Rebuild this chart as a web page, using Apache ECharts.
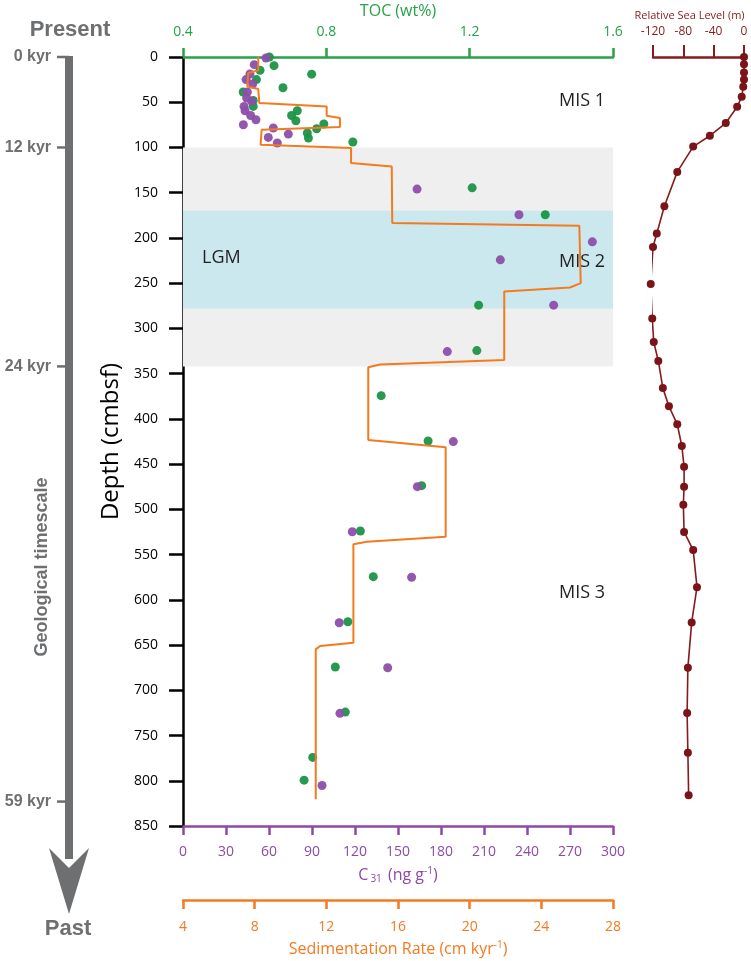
<!DOCTYPE html>
<html><head><meta charset="utf-8">
<script src="https://cdn.jsdelivr.net/npm/echarts@6/dist/echarts.min.js"></script>
<style>html,body{margin:0;padding:0;background:#fff}#c{width:751px;height:961px}</style>
</head><body><div id="c"></div>
<script>
// ---- data ----
const depthTicksMax = 850;
const tocDepths = [0, 9.6, 14.6, 19, 25, 34, 38.7, 48, 54.6, 59.4, 64.6, 70.5, 74, 79.3, 84, 89.6, 94, 144.6, 174.4, 274.3, 324.5, 374.3, 424.4, 473.8, 523.9, 574.4, 624.2, 674.3, 724.1, 774.2, 799.3];
const tocValues = [0.641, 0.654, 0.615, 0.759, 0.605, 0.679, 0.568, 0.596, 0.596, 0.719, 0.703, 0.715, 0.793, 0.773, 0.747, 0.750, 0.874, 1.207, 1.411, 1.225, 1.220, 0.953, 1.084, 1.066, 0.895, 0.931, 0.860, 0.825, 0.853, 0.762, 0.738];
const c31Depths = [1.1, 8.5, 18.8, 25, 29.9, 38.7, 45.3, 49, 54.6, 59.4, 64.6, 69.3, 74.9, 78.5, 85.2, 88.9, 95.1, 146, 174.4, 204.3, 224.2, 274.3, 325.6, 425.1, 474.9, 524.7, 575.1, 625.3, 675.1, 725.5, 805.2];
const c31Values = [57.9, 49.7, 46.7, 44, 48.6, 44.9, 44.4, 47.9, 42.6, 43.3, 47.2, 50.9, 42.1, 63, 73.5, 59.5, 65.8, 163.3, 234.4, 285.6, 221.4, 258.6, 184.4, 188.6, 163.5, 118.1, 159.5, 109, 142.8, 109.5, 97];
const sedDepths = [0, 14.8, 17.7, 32.5, 35.4, 50.9, 54.6, 64.9, 67.5, 77.4, 80.4, 97, 100.6, 117.2, 121, 183.6, 186.6, 250, 254.8, 259.2, 334.8, 339.8, 342.9, 423.3, 431.3, 530.2, 535.7, 538.6, 647.4, 651.1, 654.8, 820.3];
const sedRates = [8.20, 8.20, 7.64, 7.59, 8.20, 8.26, 12.02, 12.02, 12.76, 12.76, 8.39, 8.33, 13.38, 13.38, 15.65, 15.68, 26.12, 26.20, 25.60, 21.93, 21.93, 15.0, 14.34, 14.34, 18.66, 18.66, 14.25, 13.51, 13.51, 11.65, 11.41, 11.41];
const seaDepths = [0, 8, 17, 25, 33, 44, 55, 73, 87, 99, 127, 165, 195, 210, 251, 289, 315, 336, 366, 386, 406, 430, 453, 475, 495, 525, 545, 586, 625, 675, 725, 769, 816];
const seaLevels = [0, 0, 0, 0, -1, -3, -9, -24, -45, -67, -88, -105, -115, -120, -123, -121, -119, -113, -107, -99, -88, -82, -79, -79, -80, -79, -67, -62, -69, -74, -75, -74, -73];
const bandGray = [100, 342];
const bandLGM = [170, 278];
const timeLabels = ['0 kyr', '12 kyr', '24 kyr', '59 kyr'];
const timeDepths = [0, 100, 342, 823];
const zoneLabels = ['MIS 1', 'LGM', 'MIS 2', 'MIS 3'];

// ---- style ----
const GREEN = '#27a248', PURPLE = '#8c4aa8', ORANGE = '#f47a20', RED = '#861a1d', GRAY = '#6e6f71';
const FONT = 'Open Sans';

const zip = (a, b) => a.map((v, i) => [v, b[i]]);

const chart = echarts.init(document.getElementById('c'), null, {renderer: 'canvas'});
const option = {
  animation: false,
  backgroundColor: '#fff',
  textStyle: {fontFamily: FONT},
  grid: [
    {left: 183, top: 57, width: 430, height: 769, outerBoundsMode: 'none', containLabel: false},
    {left: 653, top: 57, width: 91, height: 769, outerBoundsMode: 'none', containLabel: false}
  ],
  yAxis: [
    {gridIndex: 0, type: 'value', inverse: true, min: 0, max: depthTicksMax, interval: 50,
      name: 'Depth (cmbsf)', nameLocation: 'middle', nameGap: 50,
      nameTextStyle: {fontSize: 24, color: '#000', fontFamily: FONT},
      axisLine: {show: true, lineStyle: {color: '#000', width: 2.5}},
      axisTick: {show: true, length: 14, lineStyle: {color: '#000', width: 2.5}},
      axisLabel: {fontSize: 14, color: '#000', margin: 25, fontFamily: FONT},
      splitLine: {show: false}},
    {gridIndex: 1, type: 'value', inverse: true, min: 0, max: depthTicksMax, show: false, splitLine: {show: false}}
  ],
  xAxis: [
    {gridIndex: 0, type: 'value', position: 'top', min: 0.4, max: 1.6, interval: 0.4,
      name: 'TOC (wt%)', nameLocation: 'middle', nameGap: 38,
      nameTextStyle: {fontSize: 16, color: GREEN},
      axisLine: {lineStyle: {color: GREEN, width: 2.5}},
      axisTick: {length: 9, lineStyle: {color: GREEN, width: 2.5}},
      axisLabel: {fontSize: 14, color: GREEN, margin: 18, formatter: v => v.toFixed(1)},
      splitLine: {show: false}},
    {gridIndex: 0, type: 'value', position: 'bottom', offset: 0, min: 0, max: 300, interval: 30,
      name: 'C{sub|31} (ng g{sup|-1})', nameLocation: 'middle', nameGap: 40,
      nameTextStyle: {fontSize: 16, color: PURPLE,
        rich: {sub: {fontSize: 10, color: PURPLE, verticalAlign: 'bottom', padding: [8, 2, 0, 2]},
               sup: {fontSize: 10, color: PURPLE, verticalAlign: 'top', padding: [0, 0, 8, 0]}}},
      axisLine: {lineStyle: {color: PURPLE, width: 2.5}},
      axisTick: {length: 9, lineStyle: {color: PURPLE, width: 2.5}},
      axisLabel: {fontSize: 14, color: PURPLE, margin: 19},
      splitLine: {show: false}},
    {gridIndex: 0, type: 'value', position: 'bottom', offset: 74, min: 4, max: 28, interval: 4,
      name: 'Sedimentation Rate (cm kyr{sup|-1})', nameLocation: 'middle', nameGap: 40,
      nameTextStyle: {fontSize: 16, color: ORANGE,
        rich: {sup: {fontSize: 10, color: ORANGE, verticalAlign: 'top', padding: [0, 0, 8, 0]}}},
      axisLine: {lineStyle: {color: ORANGE, width: 2.5}},
      axisTick: {length: 9, lineStyle: {color: ORANGE, width: 2.5}},
      axisLabel: {fontSize: 14, color: ORANGE, margin: 20},
      splitLine: {show: false}},
    {gridIndex: 1, type: 'value', position: 'top', min: -120, max: 0, interval: 40,
      name: 'Relative Sea Level (m)', nameLocation: 'middle', nameGap: 35,
      nameTextStyle: {fontSize: 11, color: RED, padding: [0, 18, 0, 0]},
      axisLine: {lineStyle: {color: RED, width: 2.5}},
      axisTick: {length: 12, lineStyle: {color: RED, width: 2}},
      axisLabel: {fontSize: 12, color: RED, margin: 19},
      splitLine: {show: false}}
  ],
  series: [
    {type: 'line', xAxisIndex: 0, yAxisIndex: 0, data: [], z: 1, silent: true,
      markArea: {silent: true, data: [
        [{yAxis: bandGray[0], itemStyle: {color: '#efefef'}}, {yAxis: bandGray[1]}],
        [{yAxis: bandLGM[0], itemStyle: {color: '#cbe8ef'}}, {yAxis: bandLGM[1]}]
      ]}},
    {name: 'TOC', type: 'scatter', xAxisIndex: 0, yAxisIndex: 0, z: 3, symbolSize: 9,
      itemStyle: {color: '#1b9447', opacity: 0.95}, data: zip(tocValues, tocDepths)},
    {name: 'C31', type: 'scatter', xAxisIndex: 1, yAxisIndex: 0, z: 4, symbolSize: 9,
      itemStyle: {color: '#8c4fa9', opacity: 0.95}, data: zip(c31Values, c31Depths)},
    {name: 'Sedimentation rate', type: 'line', xAxisIndex: 2, yAxisIndex: 0, z: 5, symbol: 'none',
      lineStyle: {color: ORANGE, width: 2}, data: zip(sedRates, sedDepths)},
    {name: 'Relative sea level', type: 'line', xAxisIndex: 3, yAxisIndex: 1, z: 5, clip: false,
      symbol: 'circle', symbolSize: 8, lineStyle: {color: RED, width: 1.6},
      itemStyle: {color: '#7a1418'}, data: zip(seaLevels, seaDepths)}
  ]
};
chart.setOption(option);

// ---- annotations (geological timescale and zone labels) ----
const px = d => chart.convertToPixel({yAxisIndex: 0}, d);
const barX = 69;
const yTop = px(0);
const gr = [];
gr.push({type: 'rect', shape: {x: barX - 4, y: yTop - 1, width: 8, height: 860 - yTop}, style: {fill: GRAY}});
gr.push({type: 'polygon', shape: {points: [[49, 848], [barX, 868], [89, 848], [barX, 914]]}, style: {fill: GRAY}});
timeLabels.forEach((t, i) => {
  const y = px(timeDepths[i]);
  gr.push({type: 'line', shape: {x1: 57, y1: y, x2: barX, y2: y}, style: {stroke: GRAY, lineWidth: 2.5}});
  gr.push({type: 'text', x: 51, y: y, style: {text: t, fill: GRAY, font: 'bold 16px "Liberation Sans"', textAlign: 'right', textVerticalAlign: 'middle'}});
});
gr.push({type: 'text', x: 70, y: 30, style: {text: 'Present', fill: GRAY, font: 'bold 22px "Liberation Sans"', textAlign: 'center', textVerticalAlign: 'middle'}});
gr.push({type: 'text', x: 68, y: 929, style: {text: 'Past', fill: GRAY, font: 'bold 22px "Liberation Sans"', textAlign: 'center', textVerticalAlign: 'middle'}});
gr.push({type: 'text', x: 42, y: 567, rotation: Math.PI / 2, style: {text: 'Geological timescale', fill: GRAY, font: 'bold 18px "Liberation Sans"', textAlign: 'center', textVerticalAlign: 'middle'}});
const zonePos = [[559, 101], [202, 258], [559, 262], [559, 593]];
zoneLabels.forEach((t, i) => {
  gr.push({type: 'text', x: zonePos[i][0], y: zonePos[i][1], z: 10, style: {text: t, fill: '#231f20', font: '18px "Open Sans"', textAlign: 'left', textVerticalAlign: 'middle'}});
});
chart.setOption({graphic: gr});
</script>
</body></html>
